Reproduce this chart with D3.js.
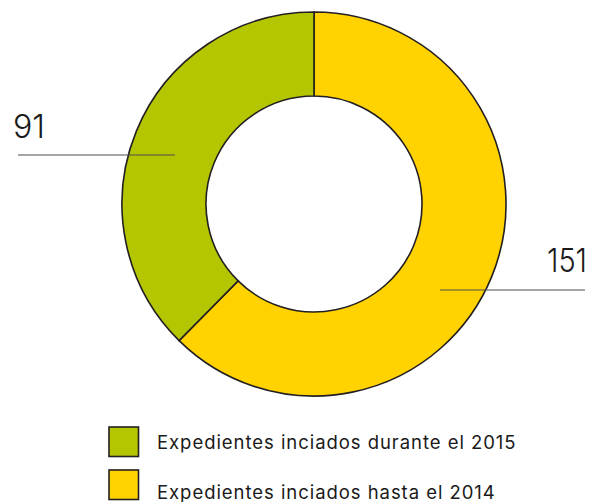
<!DOCTYPE html>
<html><head><meta charset="utf-8">
<script src="https://cdn.jsdelivr.net/npm/d3@7"></script>
<style>html,body{margin:0;padding:0;background:#fff;} svg{display:block;}</style>
</head><body>
<svg id="c" width="596" height="502"></svg>
<script>
const categories = ["Expedientes inciados hasta el 2014", "Expedientes inciados durante el 2015"];
const values = [151, 91];
const colors = ["#ffd200", "#b3c600"];
const legendOrder = [1, 0];

const W = 596, H = 502;
const cx = 314, cy = 204, R = 192, r = 108;
const font = "Inter, 'Open Sans', sans-serif";

const svg = d3.select("#c");
const data = categories.map((c, i) => ({cat: c, value: values[i], color: colors[i]}));
const pie = d3.pie().value(d => d.value).sort(null);
const arc = d3.arc().innerRadius(r).outerRadius(R);
const arcs = pie(data);

const g = svg.append("g").attr("transform", `translate(${cx},${cy})`);
g.selectAll("path").data(arcs).join("path")
  .attr("d", arc)
  .attr("fill", d => d.data.color)
  .attr("stroke", "#231f20")
  .attr("stroke-width", 1.6);

// leader lines and value labels
const labelLayout = [
  {x1: 440, x2: 585, y: 290, tx: 587, ty: 272, anchor: "end", len: 40},
  {x1: 18, x2: 175, y: 155, tx: 13, ty: 138, anchor: "start", len: 32}
];
arcs.forEach((a, i) => {
  const L = labelLayout[i];
  svg.append("line").attr("x1", L.x1).attr("x2", L.x2).attr("y1", L.y).attr("y2", L.y)
    .attr("stroke", "#4d4d4d").attr("stroke-width", 1);
  svg.append("text").attr("x", L.tx).attr("y", L.ty).attr("text-anchor", L.anchor)
    .attr("font-family", font).attr("font-size", 33).attr("font-weight", 300).attr("fill", "#1a1a1a")
    .attr("textLength", L.len).attr("lengthAdjust", "spacingAndGlyphs")
    .text(d3.format("d")(a.data.value));
});

// legend
const legendRows = [{box: 427, base: 449.3}, {box: 470, base: 498.5}];
const lg = svg.append("g");
legendOrder.forEach((idx, k) => {
  const row = legendRows[k];
  lg.append("rect").attr("x", 109).attr("y", row.box).attr("width", 29.5).attr("height", 29.5)
    .attr("fill", colors[idx]).attr("stroke", "#231f20").attr("stroke-width", 1.6);
  lg.append("text").attr("x", 157).attr("y", row.base)
    .attr("font-family", font).attr("font-size", 18.5).attr("letter-spacing", 0.95).attr("fill", "#1a1a1a")
    .text(categories[idx]);
});
</script>
</body></html>
